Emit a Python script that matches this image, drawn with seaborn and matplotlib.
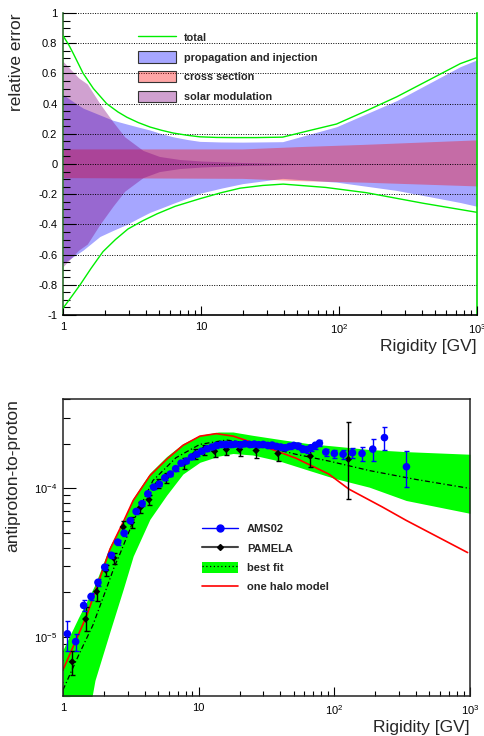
import numpy as np
import matplotlib
matplotlib.use('Agg')
import matplotlib.pyplot as plt
import seaborn as sns
from matplotlib.lines import Line2D
from matplotlib.patches import Patch
from matplotlib.ticker import FixedLocator, FuncFormatter, LogLocator, NullFormatter, AutoMinorLocator

# ---- top panel: relative error budget ----
total_up_r = [1, 1.1, 1.19, 1.4, 1.66, 2.07, 2.5, 2.9, 3.5, 4.27, 5.2, 6.3, 8, 9.8, 13, 17.4, 25, 39, 60, 96,
              160, 262, 450, 757, 1000]
total_up = [0.85, 0.79, 0.73, 0.60, 0.50, 0.40, 0.345, 0.31, 0.275, 0.245, 0.223, 0.205, 0.19, 0.18, 0.176,
            0.175, 0.175, 0.178, 0.22, 0.265, 0.355, 0.445, 0.557, 0.665, 0.705]
total_lo_r = [1, 1.15, 1.33, 1.6, 1.95, 2.4, 2.96, 3.8, 4.8, 6.5, 9.8, 14, 19.2, 28, 39.4, 80, 158, 408, 1000]
total_lo = [-0.955, -0.88, -0.80, -0.69, -0.58, -0.50, -0.43, -0.375, -0.33, -0.28, -0.23, -0.19, -0.16,
            -0.142, -0.133, -0.155, -0.19, -0.26, -0.32]

prop_r = [1, 1.2, 1.4, 1.85, 2.3, 2.9, 3.5, 4.27, 5.2, 6.3, 8, 9.8, 14, 20, 39, 96, 262, 757, 1000]
prop_up = [0.46, 0.41, 0.37, 0.325, 0.29, 0.265, 0.245, 0.225, 0.2, 0.18, 0.162, 0.15, 0.146, 0.145, 0.148,
           0.247, 0.42, 0.645, 0.69]
prop_lo = [-0.66, -0.61, -0.57, -0.48, -0.44, -0.40, -0.36, -0.32, -0.29, -0.26, -0.225, -0.194, -0.16,
           -0.13, -0.095, -0.12, -0.175, -0.255, -0.28]

xsec_r = [1, 20, 50, 150, 1000]
xsec_up = [0.10, 0.10, 0.115, 0.13, 0.16]
xsec_lo = [-0.09, -0.095, -0.11, -0.12, -0.145]

solar_r = [1, 1.3, 1.5, 1.85, 2.3, 2.8, 3.8, 5, 7, 10, 20, 50, 1000]
solar_up = [0.68, 0.57, 0.53, 0.40, 0.28, 0.18, 0.09, 0.05, 0.03, 0.02, 0.01, 0.003, 0.0]
solar_lo = [-0.68, -0.57, -0.53, -0.40, -0.28, -0.18, -0.09, -0.05, -0.03, -0.02, -0.01, -0.003, 0.0]

# ---- bottom panel: antiproton-to-proton ratio ----
band_r = [1, 1.3, 1.55, 1.72, 2.22, 2.78, 3.29, 4.37, 5.8, 7.65, 10.2, 14, 17.9, 25, 39.4, 65.6, 100, 181, 338, 1000]
band_hi = [8.2e-6, 1.35e-5, 1.85e-5, 2.25e-5, 4.1e-5, 6.0e-5, 8.6e-5, 1.27e-4, 1.64e-4, 2.0e-4, 2.28e-4, 2.4e-4,
           2.4e-4, 2.28e-4, 2.14e-4, 2.0e-4, 1.93e-4, 1.83e-4, 1.77e-4, 1.7e-4]
band_lo = [1e-6, 1.8e-6, 3.0e-6, 5.1e-6, 1.09e-5, 2.1e-5, 3.5e-5, 6.2e-5, 9.0e-5, 1.25e-4, 1.5e-4, 1.65e-4,
           1.72e-4, 1.68e-4, 1.53e-4, 1.32e-4, 1.17e-4, 1.02e-4, 8.3e-5, 6.8e-5]

fit_r = [1, 1.3, 1.66, 2.0, 2.4, 2.62, 3.29, 4.6, 6.8, 10.2, 16, 25, 52, 91, 181, 400, 1000]
fit_v = [4.4e-6, 7.5e-6, 1.2e-5, 1.9e-5, 3.0e-5, 3.6e-5, 6.0e-5, 1.13e-4, 1.61e-4, 1.98e-4, 2.12e-4, 2.0e-4,
         1.7e-4, 1.53e-4, 1.32e-4, 1.15e-4, 1.0e-4]

halo_r = [1, 1.5, 2.22, 2.77, 3.29, 4.37, 5.8, 7.65, 10.2, 13.5, 18, 29.8, 52, 91, 128, 226, 338, 960]
halo_v = [6.0e-6, 1.4e-5, 3.9e-5, 5.9e-5, 8.3e-5, 1.22e-4, 1.57e-4, 1.95e-4, 2.25e-4, 2.34e-4, 2.25e-4, 1.93e-4,
          1.6e-4, 1.25e-4, 9.9e-5, 7.5e-5, 6.1e-5, 3.7e-5]

ams_r = [1.077, 1.24, 1.42, 1.61, 1.81, 2.03, 2.27, 2.53, 2.82, 3.13, 3.46, 3.83, 4.22, 4.65, 5.12, 5.63, 6.18,
         6.77, 7.42, 8.11, 8.86, 9.67, 10.5, 11.5, 12.5, 13.5, 14.7, 15.9, 17.3, 18.7, 20.3, 21.9, 23.7, 25.7,
         27.7, 29.9, 32.3, 34.8, 37.5, 40.4, 43.5, 46.8, 50.3, 54.1, 58.2, 62.5, 67.2, 72.3, 77.6, 86.5, 100,
         116, 136, 160, 192, 234, 340]
ams_v = [1.05e-5, 9.3e-6, 1.63e-5, 1.87e-5, 2.33e-5, 2.95e-5, 3.55e-5, 4.35e-5, 5.0e-5, 6.07e-5, 7.0e-5, 7.9e-5,
         9.2e-5, 1.02e-4, 1.07e-4, 1.18e-4, 1.25e-4, 1.36e-4, 1.48e-4, 1.53e-4, 1.63e-4, 1.70e-4, 1.78e-4,
         1.85e-4, 1.90e-4, 1.95e-4, 1.98e-4, 1.98e-4, 1.98e-4, 1.99e-4, 1.97e-4, 2.0e-4, 1.98e-4, 1.99e-4,
         1.97e-4, 1.98e-4, 1.95e-4, 1.96e-4, 1.92e-4, 1.90e-4, 1.88e-4, 1.92e-4, 1.95e-4, 1.93e-4, 1.85e-4,
         1.83e-4, 1.88e-4, 1.95e-4, 2.02e-4, 1.76e-4, 1.72e-4, 1.70e-4, 1.74e-4, 1.72e-4, 1.84e-4, 2.2e-4, 1.4e-4]
ams_err = [2.4e-6, 1.2e-6, 1.3e-6, 1.0e-6, 1.1e-6, 1.3e-6, 1.5e-6, 1.8e-6, 2.0e-6, 2.3e-6, 2.6e-6, 2.9e-6,
           3.3e-6, 3.6e-6, 3.8e-6, 4.1e-6, 4.3e-6, 4.6e-6, 5.0e-6, 5.1e-6, 5.4e-6, 5.6e-6, 5.8e-6, 6.0e-6,
           6.2e-6, 6.4e-6, 6.5e-6, 6.5e-6, 6.6e-6, 6.7e-6, 6.7e-6, 6.9e-6, 6.9e-6, 7.0e-6, 7.0e-6, 7.2e-6,
           7.2e-6, 7.4e-6, 7.4e-6, 7.5e-6, 7.6e-6, 8.0e-6, 8.3e-6, 8.5e-6, 8.4e-6, 8.6e-6, 9.0e-6, 9.6e-6,
           1.0e-5, 9.5e-6, 1.05e-5, 1.2e-5, 1.4e-5, 1.85e-5, 3.0e-5, 3.9e-5, 3.8e-5]

pam_r = [1.17, 1.47, 1.77, 2.07, 2.37, 2.78, 3.2, 3.72, 4.3, 5.02, 5.72, 7.8, 9.34, 10.9, 13.1, 16, 20, 26.5, 38.4, 66.5, 127]
pam_v = [6.8e-6, 1.32e-5, 2.02e-5, 2.82e-5, 3.4e-5, 5.5e-5, 5.9e-5, 7.45e-5, 8.4e-5, 1.08e-4, 1.18e-4, 1.48e-4,
         1.7e-4, 1.83e-4, 1.78e-4, 1.83e-4, 1.83e-4, 1.8e-4, 1.72e-4, 1.65e-4, 1.57e-4]
pam_lo = [1.3e-6, 2.2e-6, 2.8e-6, 2.5e-6, 3e-6, 5e-6, 5e-6, 6e-6, 7e-6, 8e-6, 9e-6, 1.2e-5, 1.3e-5, 1.4e-5,
          1.5e-5, 1.6e-5, 1.8e-5, 2.0e-5, 2.0e-5, 2.5e-5, 7.2e-5]
pam_hi = [1.3e-6, 2.7e-6, 2.2e-6, 2.5e-6, 3e-6, 5e-6, 5e-6, 6e-6, 7e-6, 8e-6, 9e-6, 1.2e-5, 1.3e-5, 1.4e-5,
          1.5e-5, 1.6e-5, 1.8e-5, 1.9e-5, 1.8e-5, 2.2e-5, 1.25e-4]

sns.set_style('ticks')
plt.rcParams['font.family'] = ['Liberation Sans', 'DejaVu Sans']
plt.rcParams['mathtext.default'] = 'regular'

fig = plt.figure(figsize=(4.85, 7.36), dpi=100)
ax1 = fig.add_axes([0.1299, 0.572, 0.8536, 0.4103])
ax2 = fig.add_axes([0.1299, 0.0543, 0.8392, 0.4035])
ax1.set_xscale('log')
ax2.set_xscale('log')
ax2.set_yscale('log')

blue_c = (0, 0, 1, 0.35)
red_c = (1, 0, 0, 0.35)
purp_c = (0.5, 0, 0.5, 0.37)

# top panel
ax1.fill_between(prop_r, prop_lo, prop_up, color=blue_c, lw=0, zorder=1)
ax1.fill_between(xsec_r, xsec_lo, xsec_up, color=red_c, lw=0, zorder=1.1)
ax1.fill_between(solar_r, solar_lo, solar_up, color=purp_c, lw=0, zorder=1.2)
sns.lineplot(x=total_up_r, y=total_up, ax=ax1, color='#00ee00', lw=1, estimator=None, sort=False, zorder=3)
sns.lineplot(x=total_lo_r, y=total_lo, ax=ax1, color='#00ee00', lw=1, estimator=None, sort=False, zorder=3)
ax1.set_xlim(1, 1000)
ax1.set_ylim(-1, 1)

ax1.yaxis.set_major_locator(FixedLocator(np.round(np.arange(-1, 1.01, 0.2), 1)))
ax1.yaxis.set_minor_locator(AutoMinorLocator(4))
ax1.yaxis.set_major_formatter(FuncFormatter(lambda v, p: '0' if abs(v) < 1e-9 else f'{v:g}'))
ax1.yaxis.grid(True, which='major', linestyle=(0, (1, 1.5)), color='black', lw=0.7)
ax1.set_axisbelow(False)

# bottom panel
ax2.fill_between(band_r, band_lo, band_hi, color='#00ff00', lw=0, zorder=1)
sns.lineplot(x=fit_r, y=fit_v, ax=ax2, color='black', lw=0.9, linestyle=(0, (4, 2, 1, 2)),
             estimator=None, sort=False, zorder=2)
sns.lineplot(x=halo_r, y=halo_v, ax=ax2, color='#ff0000', lw=1.2, estimator=None, sort=False, zorder=2.2)
ax2.errorbar(pam_r, pam_v, yerr=[pam_lo, pam_hi], fmt='none', ecolor='black', elinewidth=1, capsize=1.8, zorder=3)
sns.scatterplot(x=pam_r, y=pam_v, ax=ax2, color='black', marker='D', s=14, edgecolor='none', zorder=3.5)
ax2.errorbar(ams_r, ams_v, yerr=ams_err, fmt='none', ecolor='#0000ff', elinewidth=1, capsize=1.8, zorder=4)
sns.scatterplot(x=ams_r, y=ams_v, ax=ax2, color='#0000ff', marker='o', s=30, edgecolor='none', zorder=4.5)
ax2.set_xlim(1, 1000)
ax2.set_ylim(4e-6, 4e-4)
ax2.yaxis.set_major_locator(LogLocator(base=10, numticks=10))
ax2.yaxis.set_minor_locator(LogLocator(base=10, subs=np.arange(2, 10), numticks=20))
ax2.yaxis.set_major_formatter(FuncFormatter(lambda v, p: '$10^{%d}$' % int(round(np.log10(v)))))
ax2.yaxis.set_minor_formatter(NullFormatter())

xfmt = FuncFormatter(lambda v, p: {1: '1', 10: '10', 100: '$10^{2}$', 1000: '$10^{3}$'}.get(int(round(v)), ''))
for ax in (ax1, ax2):
    ax.xaxis.set_major_locator(FixedLocator([1, 10, 100, 1000]))
    ax.xaxis.set_minor_locator(LogLocator(base=10, subs=np.arange(2, 10), numticks=20))
    ax.xaxis.set_major_formatter(xfmt)
    ax.xaxis.set_minor_formatter(NullFormatter())
    ax.tick_params(axis='both', which='both', direction='in', labelsize=8, colors='black')
    ax.tick_params(axis='x', which='major', length=6.5, width=0.8, pad=5)
    ax.tick_params(axis='x', which='minor', length=3.5, width=0.8)
    ax.tick_params(axis='y', which='major', length=9.5, width=0.8, pad=4)
    ax.tick_params(axis='y', which='minor', length=5, width=0.8)
    ax.set_xlabel('Rigidity [GV]', loc='right', fontsize=12.5, labelpad=2)

ax1.set_ylabel('relative error', loc='top', fontsize=12.5, labelpad=10)
ax1.spines['top'].set_visible(False)
ax1.spines['right'].set_color('#00dd00')
ax1.spines['left'].set_color('#2e6e2e')
ax1.spines['bottom'].set_color('black')
for s in ax1.spines.values():
    s.set_linewidth(1.2)

ax2.set_ylabel('antiproton-to-proton', loc='top', fontsize=12.5, labelpad=10)
for s in ax2.spines.values():
    s.set_linewidth(1.1)
    s.set_color('#222222')

top_handles = [
    Line2D([], [], color='#00ee00', lw=1),
    Patch(facecolor=blue_c, edgecolor='#333333', lw=0.8),
    Patch(facecolor=red_c, edgecolor='#333333', lw=0.8),
    Patch(facecolor=purp_c, edgecolor='#333333', lw=0.8),
]
top_labels = ['total', 'propagation and injection', 'cross section', 'solar modulation']
ax1.legend(top_handles, top_labels, loc='upper left', bbox_to_anchor=(0.181, 0.938),
           frameon=False, borderpad=0, borderaxespad=0, handlelength=3.5, handleheight=1.2,
           handletextpad=0.75, labelspacing=0.78, prop={'weight': 'bold', 'size': 7.8})

bot_handles = [
    Line2D([], [], color='#0000ff', lw=1, marker='o', markersize=5),
    Line2D([], [], color='#444444', lw=1.5, marker='D', markersize=3, markerfacecolor='black',
           markeredgecolor='black'),
    (Patch(facecolor='#00ff00', edgecolor='none'), Line2D([], [], color='black', lw=0.9, linestyle=(0, (1, 2)))),
    Line2D([], [], color='#ff0000', lw=1.2),
]
bot_labels = ['AMS02', 'PAMELA', 'best fit', 'one halo model']
ax2.legend(bot_handles, bot_labels, loc='upper left', bbox_to_anchor=(0.3415, 0.582),
           frameon=False, borderpad=0, borderaxespad=0, handlelength=3.25, handleheight=1.15,
           handletextpad=0.8, labelspacing=0.72, prop={'weight': 'bold', 'size': 8})

fig.savefig('out.png', dpi=100)
